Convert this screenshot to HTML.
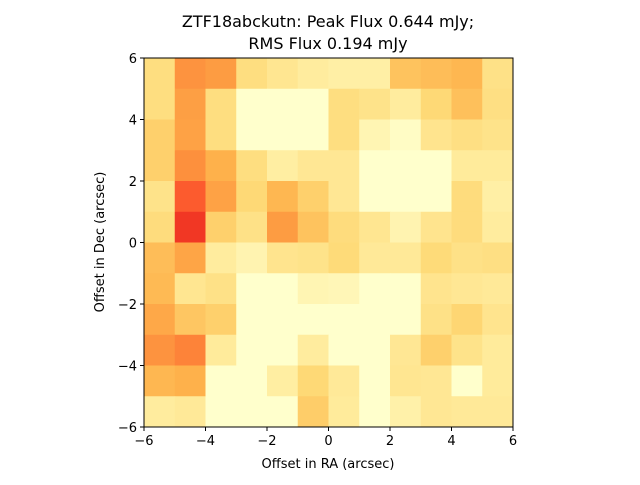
<!DOCTYPE html>
<html><head><meta charset="utf-8"><style>
body{margin:0;background:#fff;width:640px;height:480px;overflow:hidden}
text{font-family:"DejaVu Sans","Liberation Sans",sans-serif;fill:#000}
</style></head><body>
<svg id="chart" width="640" height="480" viewBox="0 0 640 480" xmlns="http://www.w3.org/2000/svg">
<text x="328" y="27" font-size="16" text-anchor="middle">ZTF18abckutn: Peak Flux 0.644 mJy;</text>
<text x="328" y="49" font-size="16" text-anchor="middle">RMS Flux 0.194 mJy</text>
<g id="cells"></g>
<rect x="144" y="58" width="369" height="369" fill="none" stroke="#000" stroke-width="1"/>
<g id="axes"></g>
<text x="328" y="468" font-size="13" text-anchor="middle">Offset in RA (arcsec)</text>
<text transform="translate(104,242) rotate(-90)" font-size="13" text-anchor="middle">Offset in Dec (arcsec)</text>
</svg>
<script>
const xTicks=[-6,-4,-2,0,2,4,6];
const yTicks=[-6,-4,-2,0,2,4,6];
const tickLabels=["\u22126","\u22124","\u22122","0","2","4","6"];
// rows from top (Dec 6) to bottom (Dec -6), columns from RA -6 to 6
const row0=[.22,.48,.45,.22,.17,.13,.11,.11,.32,.34,.36,.20];
const row1=[.22,.44,.22,0,0,0,.22,.19,.13,.25,.33,.21];
const row2=[.28,.43,.22,0,0,0,.22,.07,.02,.18,.21,.19];
const row3=[.28,.49,.38,.22,.12,.16,.16,0,0,0,.14,.14];
const row4=[.19,.60,.43,.25,.36,.28,.16,0,0,0,.23,.11];
const row5=[.23,.68,.28,.20,.45,.32,.23,.17,.08,.18,.23,.13];
const row6=[.34,.42,.13,.08,.18,.19,.24,.15,.15,.24,.20,.21];
const row7=[.35,.17,.20,0,0,.07,.06,0,0,.18,.16,.15];
const row8=[.41,.31,.28,0,0,0,0,0,0,.20,.26,.18];
const row9=[.48,.52,.14,0,0,.13,0,0,.16,.28,.19,.14];
const row10=[.36,.38,0,0,.12,.25,.15,0,.17,.16,0,.14];
const row11=[.13,.15,0,0,0,.29,.14,0,.10,.16,.15,.15];
const grid=[row0,row1,row2,row3,row4,row5,row6,row7,row8,row9,row10,row11];
const NS="http://www.w3.org/2000/svg";
const x0=144,x1=513,y0=58,y1=427;
const xs=v=>x0+(v+6)/12*(x1-x0);
const ys=v=>y1-(v+6)/12*(y1-y0);
const stops=[[255,255,204],[255,237,160],[254,217,118],[254,178,76],[253,141,60],[252,78,42],[227,26,28],[189,0,38],[128,0,38]];
function cmap(t){t=Math.max(0,Math.min(1,t))*8;const i=Math.min(7,Math.floor(t)),f=t-i;const a=stops[i],b=stops[i+1];
return `rgb(${a.map((c,k)=>Math.round(c+(b[k]-c)*f)).join(",")})`;}
const cells=document.getElementById("cells");
const n=grid.length;
grid.forEach((row,r)=>row.forEach((v,c)=>{
 const ra=-6+c*12/n, dec=6-r*12/n;
 const el=document.createElementNS(NS,"rect");
 
 
 el.setAttribute("x",xs(ra));el.setAttribute("y",ys(dec));
 el.setAttribute("width",xs(ra+12/n)-xs(ra)+0.5);el.setAttribute("height",ys(dec-12/n)-ys(dec)+0.5);
 el.setAttribute("fill",cmap(v));cells.appendChild(el);
}));
const axes=document.getElementById("axes");
xTicks.forEach((t,i)=>{
 const l=document.createElementNS(NS,"line");
 
 
 l.setAttribute("x1",xs(t));l.setAttribute("x2",xs(t));l.setAttribute("y1",y1);l.setAttribute("y2",y1+4);l.setAttribute("stroke","#000");axes.appendChild(l);
 const tx=document.createElementNS(NS,"text");
 
 
 tx.setAttribute("x",xs(t));tx.setAttribute("y",y1+18);tx.setAttribute("font-size","13");tx.setAttribute("text-anchor","middle");tx.textContent=tickLabels[i];axes.appendChild(tx);
});
yTicks.forEach((t,i)=>{
 const l=document.createElementNS(NS,"line");
 
 
 l.setAttribute("x1",x0-4);l.setAttribute("x2",x0);l.setAttribute("y1",ys(t));l.setAttribute("y2",ys(t));l.setAttribute("stroke","#000");axes.appendChild(l);
 const tx=document.createElementNS(NS,"text");
 
 
 tx.setAttribute("x",x0-7);tx.setAttribute("y",ys(t)+5);tx.setAttribute("font-size","13");tx.setAttribute("text-anchor","end");tx.textContent=tickLabels[i];axes.appendChild(tx);
});
</script>
</body></html>
